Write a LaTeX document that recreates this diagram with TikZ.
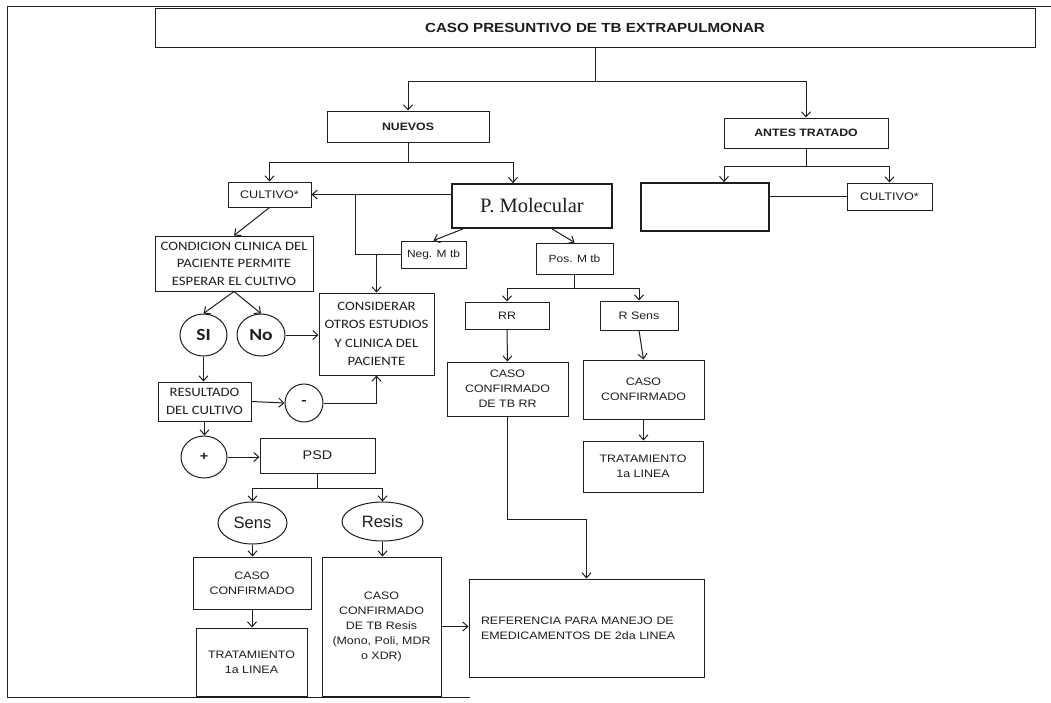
\documentclass[tikz,border=0pt]{standalone}
\usepackage{fontspec}
\usetikzlibrary{arrows.meta,shapes.geometric}
\newfontfamily\arsf[FakeStretch=1.15]{Liberation Sans}
\newfontfamily\arwide{Liberation Sans}
\newfontfamily\calsf[FakeStretch=1.15]{Carlito}
\newfontfamily\serifrm{Liberation Serif}
\definecolor{ink}{HTML}{1E1E1E}

\tikzset{
  line/.style={draw=ink, line width=1pt},
  arr/.style={line, -{Straight Barb[length=5pt,width=9pt,line width=1pt]}},
  sz/.style 2 args={minimum width=#1pt, minimum height=#2pt},
  box/.style={rectangle, draw=ink, line width=1pt, align=center, inner sep=1pt,
    text=ink, font=\arsf\fontsize{10.8}{15}\selectfont},
  boldbox/.style={box, font=\arsf\bfseries\fontsize{10.7}{13}\selectfont},
  calbox/.style={box, font=\calsf\fontsize{12.8}{17.5}\selectfont},
  thickbox/.style={box, line width=1.8pt},
  oval/.style={ellipse, draw=ink, line width=1pt, inner sep=0pt, text=ink},
}

\begin{document}
\begin{tikzpicture}[x=1pt,y=-1pt]
\useasboundingbox (0,0) rectangle (1051,702);
\fill[white] (0,0) rectangle (1051,702);
% page frame
\draw[line] (1051,6) -- (7,6) -- (7,697) -- (470,697);

% ---- nodes ----
\node[boldbox, sz={880}{39}, font=\arsf\bfseries\fontsize{13.2}{15}\selectfont] (title) at (595,27.5) {CASO PRESUNTIVO DE TB EXTRAPULMONAR};
\node[boldbox, sz={162}{31}] (nuevos) at (408,126.5) {NUEVOS};
\node[boldbox, sz={164}{30}] (antes) at (806,133) {ANTES TRATADO};

\node[box, sz={83}{25}, font=\arsf\fontsize{11}{13}\selectfont] (cultL) at (269.5,194.5) {CULTIVO*};
\node[thickbox, sz={160}{44}, font=\serifrm\fontsize{20.5}{24}\selectfont] (pmol) at (532,206) {P. Molecular};
\node[thickbox, sz={128}{48}] (empty) at (705,207) {};
\node[box, sz={85}{27}, font=\arsf\fontsize{11}{13}\selectfont] (cultR) at (889.5,196.5) {CULTIVO*};

\node[box, sz={65}{27}, font=\arsf\fontsize{10.4}{13}\selectfont] (neg) at (433.5,254.5) {Neg. M tb};
\node[box, sz={77}{31}, font=\arsf\fontsize{10.4}{13}\selectfont] (pos) at (574.5,258.5) {Pos. M tb};

\node[calbox, sz={158}{55}] (cond) at (234,263.5) {CONDICION CLINICA DEL\\PACIENTE PERMITE\\ESPERAR EL CULTIVO};
\node[calbox, sz={115}{82}, font=\calsf\fontsize{12.8}{18.5}\selectfont] (consid) at (376.5,334) {CONSIDERAR\\OTROS ESTUDIOS\\Y CLINICA DEL\\PACIENTE};
\node[oval, sz={47}{42}, font=\calsf\bfseries\fontsize{17}{19}\selectfont] (si) at (203.5,335) {SI};
\node[oval, sz={48}{42}, font=\calsf\bfseries\fontsize{17}{19}\selectfont] (no) at (261,335) {No};

\node[box, sz={84}{27}] (rr) at (507,315.5) {RR};
\node[box, sz={78}{29}] (rsens) at (639,315.5) {R Sens};
\node[box, sz={121}{54}] (cRR) at (507.5,389) {CASO\\CONFIRMADO\\DE TB RR};
\node[box, sz={121}{59}] (cR) at (643.5,389.5) {CASO\\CONFIRMADO};
\node[box, sz={120}{51}] (tR) at (643,466.5) {TRATAMIENTO\\1a LINEA};

\node[calbox, sz={93}{39}] (result) at (204.5,401.5) {RESULTADO\\DEL CULTIVO};
\node[circle, draw=ink, line width=1pt, minimum size=38pt, inner sep=0pt, text=ink, font=\calsf\bfseries\fontsize{15}{16}\selectfont] (minus) at (304,403) {-};
\node[oval, sz={46}{42}, font=\arsf\bfseries\fontsize{12.5}{14}\selectfont] (plus) at (204,457) {+};
\node[box, sz={115}{35}, font=\arsf\fontsize{12.5}{14}\selectfont] (psd) at (317.5,455.5) {PSD};
\node[oval, sz={69}{42}, font=\arwide\fontsize{16.5}{19}\selectfont] (sens) at (252.5,523) {Sens};
\node[oval, sz={81}{39}, font=\arwide\fontsize{16.5}{19}\selectfont] (resis) at (382.5,521.5) {Resis};
\node[box, sz={118}{52}] (cL) at (252,583) {CASO\\CONFIRMADO};
\node[box, sz={111}{68}] (tL) at (251.5,662) {TRATAMIENTO\\1a LINEA};
\node[box, sz={119}{139}] (cResis) at (381.5,626.5) {CASO\\CONFIRMADO\\DE TB Resis\\(Mono, Poli, MDR\\o XDR)};
\node[box, minimum height=98pt, text width=211pt, inner xsep=12pt, align=left] (ref) at (586.5,628) {REFERENCIA PARA MANEJO DE\\EMEDICAMENTOS DE 2da LINEA};

% ---- junction points ----
\coordinate (jTop) at (595,81);
\coordinate (jNew) at (408,162);
\coordinate (jOld) at (806,166);
\coordinate (jNeg) at (355,194.5);
\coordinate (jPos) at (574.5,288);
\coordinate (jRR) at (507.5,519);
\coordinate (jPsd) at (317.5,488);

% ---- connectors ----
\draw[line] (title.south) -- (jTop);
\draw[arr] (jTop) -| (nuevos.north);
\draw[arr] (jTop) -| (antes.north);

\draw[line] (nuevos.south) -- (jNew);
\draw[arr] (jNew) -| (cultL.north);
\draw[arr] (jNew) -| ([xshift=-19pt]pmol.north);

\draw[arr] (pmol.west |- cultL.east) -- (cultL.east);
\draw[line] (neg.west) -| (jNeg);
\draw[arr, line width=1.6pt] (neg.west -| consid.north) -- (consid.north);
\draw[arr] ([xshift=-69pt]pmol.south) -- (neg.north);
\draw[arr] ([xshift=20pt]pmol.south) -- (pos.north);

\draw[line] (pos.south) -- (jPos);
\draw[arr] (jPos) -| (rr.north);
\draw[arr] (jPos) -| (rsens.north);
\draw[arr] (rr.south) -- (cRR.north);
\draw[arr] (rsens.south) -- (cR.north);
\draw[arr] (cR.south) -- (cR.south |- tR.north);
\draw[arr] (cRR.south) -- (jRR) -| (ref.north);

\draw[line] (antes.south) -- (jOld);
\draw[arr] (jOld) -| ([xshift=19pt]empty.north);
\draw[arr] (jOld) -| (cultR.north);
\draw[line] (empty.east |- cultR.west) -- (cultR.west);

\draw[arr] (cultL.south) -- (cond.north);
\draw[arr] (cond.south) -- (si.north);
\draw[arr] (cond.south) -- (no.north);
\draw[arr] (no.east) -- (no.east -| consid.west);
\draw[arr] (si.south) -- (si.south |- result.north);
\draw[arr] (result.east) -- (minus.west);
\draw[arr] (minus.east) -| (consid.south);
\draw[arr] (result.south) -- (result.south |- plus.north);
\draw[arr] (plus.east) -- (plus.east -| psd.west);

\draw[line] (psd.south) -- (jPsd);
\draw[arr] (jPsd) -| (sens.north);
\draw[arr] (jPsd) -| (resis.north);
\draw[arr] (sens.south) -- (sens.south |- cL.north);
\draw[arr] (cL.south) -- (cL.south |- tL.north);
\draw[arr] (resis.south) -- (resis.south |- cResis.north);
\draw[arr] (cResis.east) -- (cResis.east -| ref.west);
\end{tikzpicture}
\end{document}
